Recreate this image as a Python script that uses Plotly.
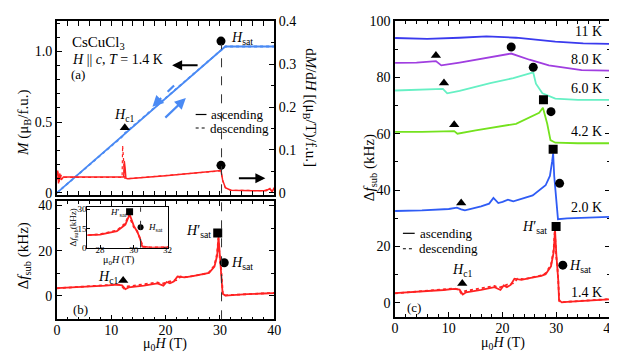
import plotly.graph_objects as go

# ---- data ----
# (a) magnetization M(H), ascending / descending sweeps
h_m_up = [0, 12.3, 12.6, 29.5, 30.3, 31.0, 40]
m_up = [0, 0.41, 0.425, 0.985, 1.015, 1.035, 1.035]
h_m_down = [0, 12.1, 12.4, 29.5, 30.3, 31.0, 40]
m_down = [0, 0.40, 0.418, 0.98, 1.012, 1.035, 1.035]

# (a) dM/dH
h_dmdh_up = [0, 0.15, 0.3, 0.5, 0.8, 1.2, 12.3, 12.4, 12.55, 12.7, 13.0, 20, 30.2,
             30.5, 31.0, 32.0, 36.0, 38.5, 39.2, 39.6, 40]
dmdh_up = [0.04, 0.052, 0.022, 0.045, 0.03, 0.037, 0.037, 0.074, 0.058, 0.034, 0.033,
           0.04, 0.052, 0.03, 0.012, 0.006, 0.005, 0.005, 0.01, 0.002, 0.012]
h_dmdh_down = [0, 0.2, 0.4, 0.7, 1.0, 12.0, 12.1, 12.3, 12.5, 13.0, 20, 30.2,
               30.5, 31.0, 32.0, 38.0, 39.0, 40]
dmdh_down = [0.03, 0.048, 0.025, 0.042, 0.036, 0.036, 0.11, 0.06, 0.034, 0.033,
             0.04, 0.051, 0.028, 0.012, 0.006, 0.005, 0.008, 0.004]

# (b)/(c) 1.4 K frequency shift
h_14_up = [0, 3, 6, 9, 11, 12.0, 12.6, 13.2, 16, 18.5, 19.6, 20.2, 20.8, 21.5, 22.2,
           23.5, 25, 27.2, 28, 29, 29.5, 29.75, 30.0, 30.2, 30.35, 30.5, 31, 32, 35, 38, 40]
df_14_up = [3.5, 3.8, 4.1, 4.6, 5.0, 4.7, 3.0, 3.8, 4.6, 5.6, 4.6, 6.2, 5.6, 6.4, 8.6,
            8.2, 8.8, 9.6, 10.2, 13, 18, 26, 17, 12.5, 8, 1, 0.2, 0.4, 0.8, 1.1, 1.3]
h_14_down = [0, 3, 6, 9, 11, 11.8, 12.3, 13, 16, 18.5, 19.3, 20, 21, 22, 22.8, 24, 27.2,
             28, 29, 29.5, 29.7, 30.0, 30.2, 30.4, 30.55, 31, 35, 40]
df_14_down = [3.4, 3.8, 4.2, 4.7, 5.1, 4.8, 3.4, 4.2, 5.2, 6.0, 5.4, 6.0, 6.6, 7.0, 8.6,
              8.4, 9.8, 10.5, 13.5, 19, 25.5, 16, 13, 6, 0.6, 0.3, 0.8, 1.4]

# (c) other temperatures (offset curves)
h_20 = [0, 5, 10, 11.5, 12.3, 13, 16, 17.5, 18.3, 19.2, 20.0, 21.0, 22, 25.6, 28, 28.8,
        29.2, 29.4, 29.6, 30.3, 32, 36, 40]
df_20 = [32.6, 32.8, 33.3, 33.8, 33.2, 32.8, 34.2, 35.2, 37.2, 35.4, 35.8, 36.6, 36.0,
         38.1, 41.7, 45, 50, 53, 45, 29.7, 30.0, 30.3, 30.5]
h_42 = [0, 5, 11, 11.6, 15, 22.5, 26.8, 27.5, 28.3, 28.9, 29.8, 34, 40]
df_42 = [60.6, 60.6, 60.9, 60.0, 61.2, 63.5, 67.4, 69.2, 63.5, 57.7, 56.8, 56.6, 56.6]
h_60 = [0, 5, 8.9, 9.7, 12, 17.7, 22, 25.7, 26.2, 27.4, 29.8, 34, 40]
df_60 = [75.3, 75.5, 75.9, 74.3, 75.2, 77.9, 79.7, 81.7, 77.7, 74.3, 72.4, 72.0, 72.0]
h_80 = [0, 4, 7.6, 8.6, 12, 17, 21.6, 25, 28.6, 34.7, 40]
df_80 = [85.1, 85.2, 85.7, 84.2, 85.2, 86.8, 88.4, 86.2, 84.2, 82.5, 82.3]
h_11 = [0, 6, 12, 17, 22.5, 26, 29.8, 35, 40]
df_11 = [93.9, 93.6, 94.0, 94.5, 94.0, 93.4, 92.6, 92.0, 91.8]

# characteristic fields (markers)
a_hc1 = ([12.5], [0.461])
a_hsat_m = ([30.2], [1.073])
a_hsat_d = ([30.2], [0.064])
b_hc1 = ([12.2], [6.8])
b_hsat_p = ([29.6], [27.8])
b_hsat = ([30.8], [14.7])
in_hsat_p = ([29.75], [28.0])
in_hsat = ([30.4], [16.0])
c_tri_h = [7.6, 9.1, 11.0, 12.3, 12.5]
c_tri_v = [87.7, 78.0, 63.2, 35.4, 6.9]
c_sq_h = [27.6, 29.4, 29.95]
c_sq_v = [72.0, 54.5, 27.1]
c_circ_h = [21.6, 25.7, 29.0, 30.6, 31.2]
c_circ_v = [90.7, 83.5, 67.8, 42.4, 13.4]
temp_labels = ["11 K", "8.0 K", "6.0 K", "4.2 K", "2.0 K", "1.4 K"]
temp_label_y = [96.2, 86.3, 76.0, 60.6, 33.9, 3.6]

H_SAT_LINE = 30.3
H_SAT_INSET = 30.4

# ---- styling ----
W, H = 617, 353
FONT = "Liberation Serif, Times New Roman, serif"
RED = "#ff2222"
BLUE_A = "#4a8af4"
colors_c = {"11": "#3a3aee", "8.0": "#a03ee0", "6.0": "#66f0c4", "4.2": "#74e21e",
            "2.0": "#2f5cf5", "1.4": RED}


def px(x):
    return x / W


def py(y):
    return 1 - y / H


fig = go.Figure()


def line(x, y, color, xa, ya, dash="solid", width=1.8):
    fig.add_trace(go.Scatter(x=x, y=y, mode="lines", xaxis=xa, yaxis=ya,
                             line=dict(color=color, width=width, dash=dash),
                             showlegend=False, hoverinfo="skip"))


def marks(x, y, symbol, xa, ya, size=9):
    fig.add_trace(go.Scatter(x=x, y=y, mode="markers", xaxis=xa, yaxis=ya,
                             marker=dict(symbol=symbol, color="black", size=size),
                             showlegend=False, hoverinfo="skip"))


# (a)
line(h_m_up, m_up, BLUE_A, "x", "y")
line(h_m_down, m_down, BLUE_A, "x", "y", dash="dot")
line(h_dmdh_up, dmdh_up, RED, "x", "y2", width=1.5)
line(h_dmdh_down, dmdh_down, RED, "x", "y2", dash="dot", width=1.2)
marks(*a_hc1, "triangle-up", "x", "y")
marks(*a_hsat_m, "circle", "x", "y")
marks(*a_hsat_d, "circle", "x", "y2")

# (b)
line(h_14_up, df_14_up, RED, "x2", "y3")
line(h_14_down, df_14_down, RED, "x2", "y3", dash="dot")
marks(*b_hc1, "triangle-up", "x2", "y3")
marks(*b_hsat_p, "square", "x2", "y3")
marks(*b_hsat, "circle", "x2", "y3")

# inset
line(h_14_up, df_14_up, RED, "x3", "y4")
line(h_14_down, df_14_down, RED, "x3", "y4", dash="dot")
marks(*in_hsat_p, "square", "x3", "y4", size=7)
marks(*in_hsat, "circle", "x3", "y4", size=6)

# (c)
line(h_11, df_11, colors_c["11"], "x4", "y5")
line(h_80, df_80, colors_c["8.0"], "x4", "y5")
line(h_60, df_60, colors_c["6.0"], "x4", "y5")
line(h_42, df_42, colors_c["4.2"], "x4", "y5")
line(h_20, df_20, colors_c["2.0"], "x4", "y5")
line(h_14_up, df_14_up, RED, "x4", "y5")
line(h_14_down, df_14_down, RED, "x4", "y5", dash="dot")
marks(c_tri_h, c_tri_v, "triangle-up", "x4", "y5")
marks(c_sq_h, c_sq_v, "square", "x4", "y5")
marks(c_circ_h, c_circ_v, "circle", "x4", "y5")

# ---- axes ----
tick_font = dict(family=FONT, size=14, color="black")
small_font = dict(family=FONT, size=9, color="black")
base = dict(showgrid=False, zeroline=False, showline=True, linecolor="black",
            linewidth=1.5, ticks="inside", ticklen=5, tickwidth=1.2, tickcolor="black",
            tickfont=tick_font)
minor = lambda d: dict(ticks="inside", ticklen=3, dtick=d, tickcolor="black")

xa_dom = [px(45.7), px(267)]
xc_dom = [px(390), px(609)]

fig.update_layout(
    width=W, height=H, margin=dict(l=0, r=0, t=0, b=0),
    plot_bgcolor="white", paper_bgcolor="white",
    font=dict(family=FONT, size=14, color="black"),
    xaxis=dict(base, domain=xa_dom, range=[0, 40], anchor="y", mirror="allticks",
               dtick=10, showticklabels=False, minor=minor(2)),
    yaxis=dict(base, domain=[py(186.7), py(6.7)], range=[-0.018, 1.212], anchor="x",
               tickvals=[0, 0.5, 1.0], ticktext=["0", "0.5", "1.0"], minor=minor(0.1)),
    yaxis2=dict(base, overlaying="y", side="right", anchor="x", range=[-0.006, 0.4],
                dtick=0.1, minor=minor(0.05)),
    xaxis2=dict(base, domain=xa_dom, range=[0, 40], anchor="y3", mirror="allticks",
                dtick=10, minor=minor(2), ticklabelstandoff=-3),
    yaxis3=dict(base, domain=[py(315), py(192.3)], range=[-10.3, 42.1], anchor="x2",
                mirror="allticks", tickvals=[0, 20, 40], minor=minor(10)),
    xaxis3=dict(base, domain=[px(76.7), px(159.3)], range=[27.25, 32.05], anchor="y4",
                mirror=True, tickvals=[28, 30, 32], ticklen=3, linewidth=1.2,
                tickfont=small_font, ticklabelstandoff=-7),
    yaxis4=dict(base, domain=[py(241), py(199)], range=[0, 31.5], anchor="x3",
                mirror=True, tickvals=[0, 15, 30], ticklen=3, linewidth=1.2,
                tickfont=small_font, ticklabelstandoff=-2),
    xaxis4=dict(base, domain=xc_dom, range=[0, 40], anchor="y5", mirror="allticks",
                dtick=10, minor=minor(2), ticklabelstandoff=-3),
    yaxis5=dict(base, domain=[py(312.7), py(6)], range=[-5, 100], anchor="x4",
                mirror="allticks", dtick=20, minor=minor(10)),
)

# ---- shapes: saturation lines, legend samples, dashed arrow ----
shapes = [
    dict(type="line", xref="x", yref="paper", x0=H_SAT_LINE, x1=H_SAT_LINE,
         y0=py(315), y1=py(30), line=dict(color="#333", width=1, dash="dash")),
    dict(type="line", xref="x3", yref="y4", x0=H_SAT_INSET, x1=H_SAT_INSET,
         y0=0, y1=31.5, line=dict(color="#333", width=1, dash="dash")),
    # legend (a)
    dict(type="line", xref="paper", yref="paper", x0=px(187), x1=px(198),
         y0=py(103), y1=py(103), line=dict(color="black", width=1.2)),
    dict(type="line", xref="paper", yref="paper", x0=px(187), x1=px(198),
         y0=py(117), y1=py(117), line=dict(color="black", width=1.2, dash="dot")),
    # legend (c)
    dict(type="line", xref="paper", yref="paper", x0=px(398), x1=px(410),
         y0=py(226), y1=py(226), line=dict(color="black", width=1.2)),
    dict(type="line", xref="paper", yref="paper", x0=px(398), x1=px(410),
         y0=py(242), y1=py(242), line=dict(color="black", width=1.2, dash="dot")),
    # dashed blue arrow shaft
    dict(type="line", xref="paper", yref="paper", x0=px(165), x1=px(148),
         y0=py(73), y1=py(90), line=dict(color=BLUE_A, width=2.2, dash="dash")),
]
fig.update_layout(shapes=shapes)


def text(x, y, s, size=14, xanchor="left", angle=0):
    fig.add_annotation(x=px(x), y=py(y), xref="paper", yref="paper", text=s,
                       showarrow=False, xanchor=xanchor, yanchor="middle",
                       textangle=angle, font=dict(family=FONT, size=size, color="black"))


def arrow(x0, y0, x1, y1, color="black", width=2):
    # arrow from (x0, y0) to head at (x1, y1), pixel coordinates
    fig.add_annotation(x=px(x1), y=py(y1), xref="paper", yref="paper",
                       ax=x0 - x1, ay=y0 - y1, axref="pixel", ayref="pixel",
                       text="", showarrow=True, arrowhead=2, arrowsize=1,
                       arrowwidth=width, arrowcolor=color)


# axis titles
text(12, 112, "<i>M</i> (μ<sub>B</sub>/f.u.)", size=15, xanchor="center", angle=-90)
text(304, 96, "d<i>M</i>/d<i>H</i> [(μ<sub>B</sub>/T)/f.u.]", size=15, xanchor="center", angle=90)
text(12, 249, "Δ<i>f</i><sub>sub</sub> (kHz)", size=15, xanchor="center", angle=-90)
text(364, 158, "Δ<i>f</i><sub>sub</sub> (kHz)", size=15, xanchor="center", angle=-90)
text(156, 341, "μ<sub>0</sub><i>H</i> (T)", size=14, xanchor="center")
text(500, 340, "μ<sub>0</sub><i>H</i> (T)", size=14, xanchor="center")
text(108, 254, "μ<sub>0</sub><i>H</i> (T)", size=10, xanchor="center")
text(63, 220, "Δ<i>f</i><sub>sub</sub>(kHz)", size=9, xanchor="center", angle=-90)

# panel (a) texts
text(59, 29, "CsCuCl<sub>3</sub>", size=15)
text(59, 46, "<i>H</i> || <i>c</i>, <i>T</i> = 1.4 K", size=14)
text(58, 62, "(a)", size=13)
text(114, 104, "<i>H</i><sub>c1</sub>", size=14, xanchor="center")
text(221, 24, "<i>H</i><sub>sat</sub>", size=14)
text(201, 103, "ascending", size=13)
text(200, 117, "descending", size=13)
arrow(190, 52, 163, 52)
arrow(230, 169, 258, 169)
arrow(155, 107, 177, 86, color=BLUE_A, width=2.2)
arrow(150, 88, 143, 95, color=BLUE_A, width=2.2)

# panel (b) texts
text(60, 305, "(b)", size=13)
text(98, 272, "<i>H</i><sub>c1</sub>", size=14, xanchor="center")
text(205, 224, "<i>H</i>′<sub>sat</sub>", size=14, xanchor="right")
text(221, 257, "<i>H</i><sub>sat</sub>", size=14)
text(119, 204, "<i>H</i>′<sub>sat</sub>", size=9, xanchor="right")
text(136, 220, "<i>H</i><sub>sat</sub>", size=9)

# panel (c) texts
text(400, 303, "(c)", size=13)
text(458, 265, "<i>H</i><sub>c1</sub>", size=14, xanchor="center")
text(547, 220, "<i>H</i>′<sub>sat</sub>", size=14, xanchor="right")
text(565, 260, "<i>H</i><sub>sat</sub>", size=14)
text(413, 226, "ascending", size=13)
text(412, 242, "descending", size=13)
for lab, yv in zip(temp_labels, temp_label_y):
    fig.add_annotation(x=px(603), y=yv, xref="paper", yref="y5", text=lab,
                       showarrow=False, xanchor="right", yanchor="middle",
                       font=dict(family=FONT, size=14, color="black"))

fig.write_html("out.html")
